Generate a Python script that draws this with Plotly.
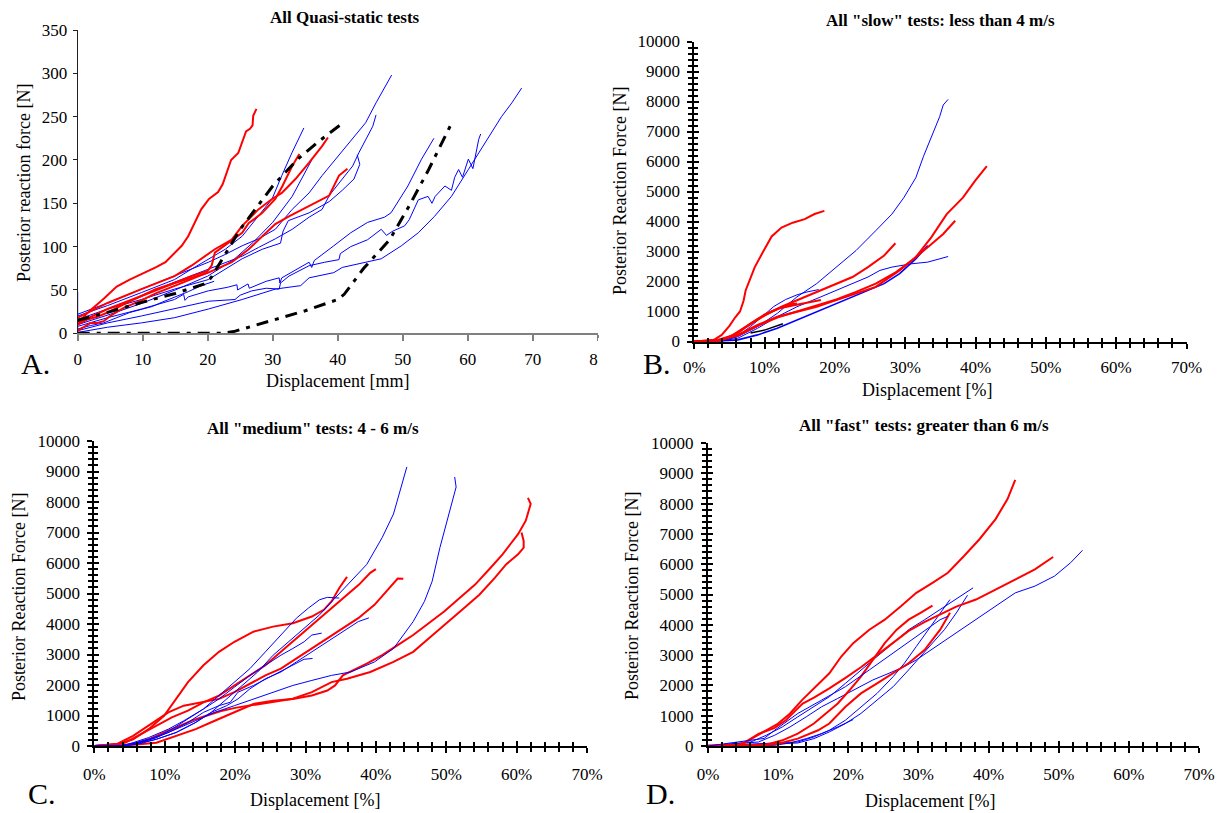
import plotly.graph_objects as go

W, H = 1219, 813
FONT = "Liberation Serif, Times New Roman, serif"
BLUE = "#0000FF"
RED = "#FF0000"

# ---------------- Panel A : quasi-static (displacement mm, force N) ----------------
A_red1 = [(0,12),(2,27),(4,40),(6,54),(8,62),(9.5,67),(12,76),(13.5,82),(15,93),(16,101),(17,112),(18,127),(19,143),(20.2,155),(21.6,163),(22.3,172),(23.2,193),(23.6,200),(24.7,208),(25.5,225),(25.9,233),(26.5,236),(26.9,240),(27,251),(27.5,259)]
A_red2 = [(0,10),(1.5,16),(3,19),(4.6,24),(7,33),(9.8,43),(12,51),(14.9,58),(17.5,66),(20,72),(20.6,78),(21.1,93),(22.7,102),(25.3,116),(26.3,127),(28.4,139),(30.4,155),(31.5,170),(33,193),(34.1,207)]
A_red3 = [(0,18),(4.6,35),(9.8,51),(14.9,66),(17.5,78),(21.1,97),(23.7,108),(25.3,124),(27.8,143),(29.9,155),(31.4,162),(33.5,178),(35.6,197),(37.6,216),(38.5,226)]
A_red4 = [(0,12),(4.6,28),(9.8,43),(14.9,58),(20.1,70),(23.7,82),(26.3,97),(28.4,112),(30.4,126),(32.5,135),(35.6,147),(38.7,159),(40.2,182),(41.5,190)]
A_red5 = [(0,3),(1,8),(2,12),(3,12),(4,14),(5,20),(7,29),(9.8,38),(12,46),(15,55),(18,64),(20,70)]
A_black1 = [(0,15),(5,25),(10,36),(15,46),(19.5,57),(20.5,64),(25,120),(30,170),(34,202),(37,221),(41,244)]
A_black2 = [(0,0),(22,0),(24,2),(30,15),(35,26),(40,39),(41,45),(44,75),(48,108),(51,147),(54,189),(57.3,239)]
A_blue_L1 = [(0,20),(4.6,32),(9.8,47),(14.9,62),(17.5,74),(20.1,86),(22.7,97),(25.3,112),(27.8,136),(29.9,155),(31.4,182),(33,209),(34.8,237)]
A_blue_L2 = [(0,22),(4.6,35),(9.8,51),(14.9,66),(20.1,82),(22.7,91),(25.3,101),(27.8,109),(30.4,120),(33,143),(35.6,162),(37.6,182),(39.7,201),(42.3,224),(44.3,243),(45.9,266),(47,280),(48.3,298)]
A_blue_L3 = [(0,16),(4.6,28),(9.8,43),(14.9,59),(20.1,74),(25.3,89),(27.8,99),(30.4,109),(33,120),(35.6,134),(37.6,143),(38.7,159),(40.7,178),(42.3,193),(43.3,209),(45.4,239),(45.9,252)]
A_blue_L4 = [(0,12),(4.6,28),(9.8,39),(14.9,51),(20.1,62),(22.7,74),(25.3,86),(28.4,97),(31.2,104),(31.6,118),(32.4,130),(35.6,139),(38.7,152),(40.7,165),(42.5,178),(43.4,195),(43,206)]
A_blue_L5 = [(0,10),(5,22),(10,35),(15,50),(20,66),(24,85),(27,105),(30,128),(33,158),(36,200)]
A_blue_L7 = [(0,5),(2,9),(4,12),(6,18),(8,24),(10,28),(11.5,31),(13,36),(15,42),(17,48),(19,55),(21,60)]
A_blue_R1 = [(0,8),(4.6,18),(9.8,28),(14.9,39),(16.3,45),(16.5,38),(17,42),(20.1,49),(23,53),(24.5,56),(24.6,50),(26.2,57),(26.4,52),(27.3,55),(29,60),(31,64),(31.1,58),(31.4,64),(35.6,82),(36,76),(36.4,84),(39.4,101),(42,116),(44.6,128),(47.2,134),(48.2,139),(50.8,170),(52.9,201),(54.8,225)]
A_blue_R2 = [(0,3),(4.6,12),(9.8,20),(14.9,28),(18,33),(20.1,37),(24.2,39),(25,44),(26.8,49),(29,52),(31,51),(31.2,58),(32.5,66),(35.6,78),(38,82),(40.2,85),(40.4,92),(42,100),(44.6,108),(46.7,120),(47.5,113),(48.5,118),(50.3,124),(51,131),(52.4,154),(53.9,158),(54.5,150),(55,158),(56.5,170),(57.5,165),(58,180),(58.6,189),(59.2,180),(60.1,201),(60.8,190),(61.7,224),(62,230)]
A_blue_R3 = [(0,1),(4.6,7),(9.8,12),(14.9,18),(20.1,28),(25.3,39),(30.4,51),(34.3,55),(35.6,64),(39.4,70),(40.7,76),(44.6,82),(46.7,86),(49.8,101),(52.4,116),(54.9,135),(57.5,158),(60.1,189),(62.7,220),(65.2,250),(66.8,266),(68.3,283)]
A_blue_axis = [(0,0),(0,48)]

# ---------------- Panel B : slow (< 4 m/s) ----------------
B_red1 = [(0,0),(2,20),(2.8,55),(3.9,220),(5,520),(5.8,800),(6.5,1000),(7,1350),(7.3,1700),(7.9,2040),(8.6,2480),(9.8,3000),(11,3500),(12.4,3800),(14,3960),(15.7,4080),(17.1,4250),(18.5,4355)]
B_red2 = [(0,0),(3.4,55),(5.6,220),(7.9,551),(10.1,882),(12.4,1158),(14.6,1378),(17.4,1654),(20.2,1929),(22.5,2150),(24.7,2480),(27,2866),(28.6,3274)]
B_red3 = [(0,0),(3.4,55),(6.2,220),(9,551),(11.8,827),(14.6,992),(17.4,1158),(20.2,1378),(23,1599),(25.8,1819),(29.2,2370),(31.5,2811),(33.7,3473),(35.9,4245),(38.2,4796),(39.9,5347),(41.6,5843)]
B_red4 = [(0,0),(3.4,30),(6.2,200),(9,520),(11.8,800),(14.6,1000),(17.4,1200),(20.2,1400),(23,1654),(25.8,1929),(28.7,2315),(30.9,2701),(33.2,3142),(35.4,3583),(37.1,4024)]
B_red5 = [(0,0),(3,20),(5,150),(7,450),(9,750),(11,1000),(12.5,1150),(14,1250),(14.6,1268)]
B_red6 = [(0,0),(3.5,20),(6,250),(8,600),(10,900),(12,1100),(14,1200),(16,1300),(18,1380)]
B_blue1 = [(0,0),(3.4,0),(6.2,165),(9,496),(11.8,937),(14.6,1488),(17.4,1929),(20.2,2480),(23,3032),(25.8,3693),(28.1,4245),(29.8,4796),(31.5,5457),(32.6,6174),(33.7,6780),(34.3,7111),(34.9,7497),(35.4,7883),(36.1,8070)]
B_blue2 = [(0,0),(4,20),(6.2,110),(9,441),(11.8,827),(14.6,1158),(18,1488),(21.4,1819),(24.7,2150),(26.4,2370),(28.1,2480),(30.9,2591),(33.2,2646),(36.1,2833)]
B_blue3 = [(0,0),(4,10),(6.2,55),(9,220),(11.8,441),(14.6,717),(18,1047),(21.4,1378),(24.7,1709),(27,1929),(29.2,2260),(31.5,2756),(33.2,3197)]
B_blue4 = [(0,0),(4,30),(6,150),(8,500),(10,900),(11.3,1167),(13,1400),(14.6,1555),(16,1650),(17.7,1731)]
B_black = [(8,280),(10,380),(12.6,590)]

# ---------------- Panel C : medium (4 - 6 m/s) ----------------
C_red1 = [(0,0),(3.3,55),(5.5,220),(7.7,551),(9.9,992),(11.6,1544),(13.3,2095),(15.5,2646),(17.7,3087),(19.9,3418),(22.6,3749),(25.4,3914),(28.2,4024),(30.9,4245),(32.6,4465),(33.7,4741),(34.8,5182),(35.9,5545)]
C_red2 = [(0,0),(3.3,55),(4.4,110),(6.6,386),(8.8,661),(11,937),(13.3,1158),(15.5,1433),(17.7,1654),(19.9,1985),(22.1,2315),(24.3,2646),(26.5,3087),(28.7,3528),(30.9,3969),(33.1,4410),(35.3,4851),(37.6,5292),(39.2,5678),(40,5800)]
C_red3 = [(0,0),(3.3,77),(5.5,331),(7.7,661),(10.5,1103),(12.7,1323),(15.5,1433),(17.7,1544),(19.9,1764),(22.1,2040),(24.3,2315),(26.5,2536),(28.7,2866),(30.9,3197),(33.1,3528),(35.3,3859),(37.5,4190),(39.8,4630),(42,5182),(43.1,5490),(43.9,5480)]
C_red4 = [(0,0),(5,30),(8.8,110),(11.6,331),(14.4,551),(17.1,827),(19.9,1103),(22.6,1378),(25.4,1488),(28.2,1544),(30.9,1654),(33.1,1819),(34.2,1985),(35.3,2315),(38.7,2700),(40.9,2977),(43.1,3308),(45.3,3638),(47.5,4024),(49.7,4410),(51.9,4851),(54.1,5292),(56.3,5843),(58,6284),(59.1,6615),(60.2,6946),(61.3,7387),(62,7938),(61.6,8137)]
C_red5 = [(0,0),(4,20),(6,100),(8,250),(10,450),(12,650),(14,850),(16,1000),(18,1150),(20,1250),(22.6,1350),(25.4,1450),(28.2,1550),(30.9,1764),(33.7,2095),(35.9,2205),(39.2,2426),(42.5,2756),(45.3,3087),(47.5,3528),(50.2,4079),(52.5,4520),(54.7,4961),(56.9,5512),(58.5,5953),(60.2,6284),(61,6505),(61,6725),(60.7,7001)]
C_blue1 = [(0,0),(3.3,0),(6.1,55),(8.8,220),(11.6,441),(14.4,772),(16.6,1103),(18.8,1544),(21,1985),(23.2,2426),(25.4,2977),(27.6,3418),(29.8,3859),(32,4300),(34.2,4851),(36.4,5402),(38.7,5953),(39.8,6394),(40.9,6836),(42.5,7607),(43.6,8489),(44.4,9151)]
C_blue2 = [(0,0),(3.3,0),(6.1,110),(8.8,276),(11.6,551),(14.4,827),(17.1,1103),(19.9,1323),(22.6,1544),(25.4,1764),(28.2,1985),(30.9,2150),(33.7,2315),(36.4,2426),(39.8,2756),(42.5,3197),(43.6,3528),(45.3,4079),(46.9,4741),(48,5402),(49.1,6505),(50,7277),(50.8,7938),(51.4,8489),(51.2,8820)]
C_blue3 = [(0,0),(4,0),(6.6,110),(8.8,276),(11,551),(13.3,882),(15.5,1213),(17.7,1654),(19.9,2095),(22.1,2536),(24.3,3087),(26.5,3638),(28.7,4190),(30.4,4520),(32,4796),(33.1,4873),(34.8,4850)]
C_blue4 = [(0,0),(4,0),(5.5,110),(7.7,276),(10.5,551),(12.7,827),(15.5,1213),(17.7,1544),(19.9,1929),(22.1,2315),(24.3,2646),(26.5,2977),(28.2,3197),(29.8,3418),(30.9,3638),(32.3,3700)]
C_blue5 = [(0,0),(4,0),(5.5,77),(7.7,220),(10.5,441),(13.3,772),(15.5,1103),(17.7,1323),(19.3,1433),(20.4,1764),(22.6,1985),(25.4,2315),(28.2,2646),(29.8,2844),(31,2870)]
C_blue6 = [(0,0),(4,0),(6,80),(8.8,220),(11.6,441),(14.4,772),(16.6,1103),(18.8,1323),(20.4,1544),(22.1,1874),(24.3,2205),(26.5,2426),(28.7,2756),(30.9,3087),(33.1,3418),(35.3,3749),(37.5,4079),(39,4200)]

# ---------------- Panel D : fast (> 6 m/s) ----------------
D_red1 = [(0,20),(3.8,22),(5,77),(6.6,299),(8.3,520),(10,741),(11.7,1073),(13.4,1515),(15.4,1958),(17.3,2400),(19,2953),(20.7,3395),(23,3838),(25.2,4170),(27.5,4612),(29.7,5054),(32,5386),(34.2,5718),(36.5,6271),(38.7,6824),(41,7488),(42.7,8151),(43.8,8782)]
D_red2 = [(0,0),(4.4,30),(5.5,150),(7.2,400),(9.5,600),(11.1,850),(12.4,1150),(13.5,1400),(15.1,1600),(17.3,1900),(19.6,2250),(21.8,2600),(24.1,3000),(26.4,3400),(28.6,3800),(30.9,4100),(33.1,4350),(35.4,4600),(38.2,4833),(41,5165),(43.8,5497),(46.6,5829),(49.2,6238)]
D_red3 = [(0,0),(8.3,44),(10.6,188),(12.8,409),(15.1,741),(16.8,1073),(18.5,1405),(20.2,1847),(21.8,2289),(23.5,2842),(25.2,3395),(26.9,3838),(28.6,4170),(30.3,4391),(32,4634)]
D_red4 = [(0,0),(8,30),(10,77),(12.8,243),(15.7,520),(17.3,741),(19.6,1294),(21.8,1736),(24.1,2068),(26.4,2400),(28.6,2732),(30.9,3174),(33.1,3838),(34.5,4400)]
D_blue1 = [(0,0),(7.2,133),(9.5,354),(11.7,630),(14,962),(16.2,1294),(18.5,1570),(20.7,1847),(23.5,2179),(25.8,2400),(28,2621),(29.7,2842),(32.5,3285),(35.4,3727),(38.2,4170),(41,4612),(43.8,5054),(46.6,5276),(49.4,5607),(51.7,6050),(53.4,6459)]
D_blue2 = [(0,0),(6.1,133),(8.3,354),(10.6,630),(12.8,962),(15.1,1294),(17.3,1626),(19.6,2068),(21.8,2511),(24.1,2953),(26.4,3395),(28.6,3838),(30.9,4170),(33.1,4501),(35.4,4833),(37.8,5220)]
D_blue3 = [(0,0),(12.8,133),(15.1,299),(17.3,520),(19.6,852),(21.8,1294),(24.1,1736),(26.4,2289),(28,2732),(29.7,3285),(31.4,3838),(33.1,4391),(34.5,4833)]
D_blue4 = [(0,0),(12.8,100),(15.1,243),(17.3,465),(19.6,741),(21.8,1073),(24.1,1515),(26.4,1958),(28.6,2511),(30.3,2953),(32,3395),(33.7,3838),(35.4,4391),(37,4977)]
D_blue5 = [(0,0),(9.5,22),(11.7,100),(14,243),(16.2,409),(18.5,630),(20.7,874)]
D_blue6 = [(0,0),(8,250),(9.5,520),(12.8,1073),(16.2,1515),(19.6,1958),(23,2511),(26.4,3063),(29.7,3616),(33.1,4170),(34.2,4280)]

# ---------------- texts ----------------
titles = ["All Quasi-static tests", 'All "slow" tests: less than 4 m/s',
          'All "medium" tests: 4 - 6 m/s', 'All "fast" tests: greater than 6 m/s']
xtitles = ["Displacement [mm]", "Displacement [%]", "Displacement [%]", "Displacement [%]"]
ytitles = ["Posterior reaction force [N]", "Posterior Reaction Force [N]",
           "Posterior Reaction Force [N]", "Posterior Reaction Force [N]"]
letters = ["A.", "B.", "C.", "D."]

# ---------------- layout geometry (pixels) ----------------
boxes = {  # x0, x1, ytop, ybottom
    1: (77.7, 597.7, 30.0, 333.3),
    2: (694.3, 1186.5, 41.5, 341.5),
    3: (94.4, 587.0, 441.0, 746.0),
    4: (708.0, 1199.0, 443.0, 746.0),
}
xstandoff = {2: 4, 3: 7, 4: 7}
title_pos = {1: (345, 17), 2: (940, 20), 3: (313, 428), 4: (924, 425)}
xt_pos = {1: (337, 381), 2: (927, 390), 3: (315, 800), 4: (930, 801)}
yt_pos = {1: (24, 183), 2: (620, 191), 3: (19, 597), 4: (632, 596)}
letter_pos = {1: (35, 364), 2: (657, 364), 3: (42, 793), 4: (660, 793)}


def dx(px):
    return px / W


def dy(py):
    return 1 - py / H


fig = go.Figure()


def add(curve, n, color, width, dash=None, overlay=False):
    xs = [p[0] for p in curve]
    ys = [p[1] for p in curve]
    if n == 1:
        xa, ya = "x", "y"
    elif overlay:
        xa, ya = "x%d" % (n + 3), "y%d" % (n + 3)
    else:
        xa, ya = "x%d" % n, "y%d" % n
    fig.add_trace(go.Scatter(x=xs, y=ys, mode="lines", xaxis=xa, yaxis=ya,
                             line=dict(color=color, width=width, dash=dash), hoverinfo="skip",
                             showlegend=False))


# Panel A
for c in [A_blue_axis, A_blue_L1, A_blue_L2, A_blue_L3, A_blue_L4, A_blue_L5, A_blue_L7,
          A_blue_R1, A_blue_R2, A_blue_R3]:
    add(c, 1, BLUE, 1)
for c in [A_red2, A_red3, A_red4, A_red5, A_red1]:
    add(c, 1, RED, 2)
for c in [A_black1, A_black2]:
    add(c, 1, "black", 3, "12px,7px,4px,7px")
# Panel B
for c in [B_blue1, B_blue2, B_blue4]:
    add(c, 2, BLUE, 1)
add(B_blue3, 2, BLUE, 1.6)
for c in [B_red2, B_red3, B_red4, B_red5, B_red6, B_red1]:
    add(c, 2, RED, 2)
add(B_black, 2, "black", 1.5, overlay=True)
# Panel C
for c in [C_red1, C_red2, C_red3, C_red4, C_red5]:
    add(c, 3, RED, 2)
for c in [C_blue1, C_blue2, C_blue3, C_blue4, C_blue5]:
    add(c, 3, BLUE, 1)
add(C_blue6, 3, BLUE, 1, overlay=True)
# Panel D
for c in [D_blue1, D_blue2, D_blue3, D_blue4, D_blue5]:
    add(c, 4, BLUE, 1)
for c in [D_red1, D_red2, D_red3, D_red4]:
    add(c, 4, RED, 2)
add(D_blue6, 4, BLUE, 1, overlay=True)

tickfont = dict(family=FONT, size=17, color="black")
lay = dict(width=W, height=H, margin=dict(l=0, r=0, t=0, b=0, autoexpand=False),
           template="none", font=dict(family=FONT, color="black"),
           paper_bgcolor="white", plot_bgcolor="white", showlegend=False)

# Panel A axes
x0, x1, yt, yb = boxes[1]
lay["xaxis"] = dict(domain=[dx(x0), dx(x1)], range=[0, 80], anchor="y", dtick=10, tick0=0,
                    showline=True, linecolor="#808080", linewidth=1.5, ticks="outside",
                    tickcolor="#808080", ticklen=6, tickwidth=1.5, showgrid=False, zeroline=False,
                    tickfont=tickfont, ticklabelstandoff=4, automargin=False)
lay["yaxis"] = dict(domain=[dy(yb), dy(yt)], range=[0, 350], anchor="x", dtick=50, tick0=0,
                    showline=True, linecolor="#202020", linewidth=1, ticks="outside",
                    tickcolor="#202020", ticklen=4, showgrid=False, zeroline=False,
                    tickfont=tickfont, ticklabelstandoff=2, automargin=False)

# Panels B, C, D axes (cross ticks made by an overlaid inside-tick axis)
for n in (2, 3, 4):
    x0, x1, yt, yb = boxes[n]
    common = dict(showgrid=False, zeroline=False, tickcolor="black", tickwidth=2, ticklen=5,
                  automargin=False, tick0=0)
    mx = dict(dtick=2, ticklen=4, tickwidth=1.5, tickcolor="black", showgrid=False)
    my = dict(dtick=200, ticklen=4, tickwidth=1.5, tickcolor="black", showgrid=False)
    lay["xaxis%d" % n] = dict(domain=[dx(x0), dx(x1)], range=[0, 70], anchor="y%d" % n, dtick=10,
                              ticksuffix="%", showline=True, linecolor="black", linewidth=2,
                              ticks="outside", tickfont=tickfont, ticklabelstandoff=xstandoff[n],
                              minor=dict(ticks="outside", **mx), **common)
    lay["yaxis%d" % n] = dict(domain=[dy(yb), dy(yt)], range=[0, 10000], anchor="x%d" % n,
                              dtick=1000, tickformat="d", showline=True, linecolor="black",
                              linewidth=2, ticks="outside", tickfont=tickfont, ticklabelstandoff=4,
                              minor=dict(ticks="outside", **my), **common)
    lay["xaxis%d" % (n + 3)] = dict(overlaying="x%d" % n, anchor="y%d" % n, range=[0, 70], dtick=10,
                                    showline=False, ticks="inside", showticklabels=False,
                                    minor=dict(ticks="inside", **mx), **common)
    lay["yaxis%d" % (n + 3)] = dict(overlaying="y%d" % n, anchor="x%d" % n, range=[0, 10000],
                                    dtick=1000, showline=False, ticks="inside", showticklabels=False,
                                    minor=dict(ticks="inside", **my), **common)

ann = []


def note(text, pos, size, angle=0):
    tx, ty = pos
    ann.append(dict(text=text, x=dx(tx), y=dy(ty), xref="paper", yref="paper",
                    xanchor="center", yanchor="middle", showarrow=False, textangle=angle,
                    font=dict(family=FONT, size=size, color="black")))


for n in (1, 2, 3, 4):
    note("<b>%s</b>" % titles[n - 1], title_pos[n], 17)
    note(xtitles[n - 1], xt_pos[n], 18)
    note(ytitles[n - 1], yt_pos[n], 18, -90)
    note(letters[n - 1], letter_pos[n], 30)
lay["annotations"] = ann
# the reference crops the last tick label of panel A ("80")
lay["shapes"] = [dict(type="rect", xref="paper", yref="paper", x0=dx(598), x1=dx(640),
                      y0=dy(372), y1=dy(338), fillcolor="white", line=dict(width=0), layer="above")]

fig.update_layout(**lay)
fig.write_html("out.html", config={"displayModeBar": False},
               post_script="document.body.style.margin='0';document.body.style.overflow='hidden';")
